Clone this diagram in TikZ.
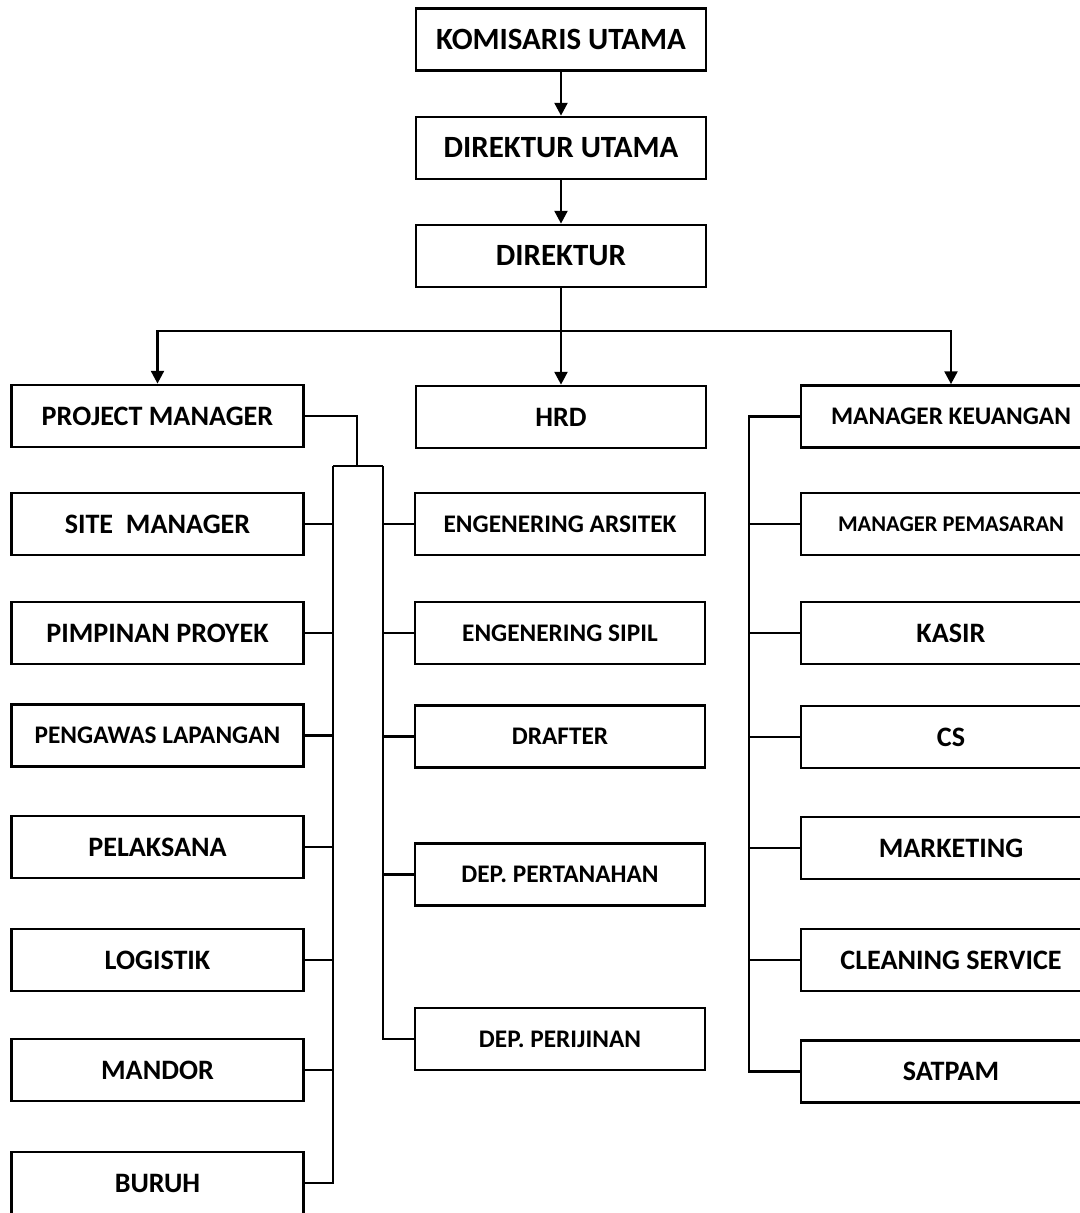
\documentclass[tikz,border=0pt]{standalone}
\usepackage{fontspec}
\setmainfont{Carlito}
\usetikzlibrary{arrows.meta}

\tikzset{
	box/.style={draw, line width=1.9pt, minimum height=1.55cm, inner sep=0pt, font=\bfseries\fontsize{20}{24}\selectfont},
	lbox/.style={box, minimum width=7.3cm},
	mbox/.style={box, minimum width=7.25cm},
	rbox/.style={box, minimum width=7.5cm},
	big/.style={font=\bfseries\fontsize{22}{26}\selectfont},
	small/.style={font=\bfseries\fontsize{18}{22}\selectfont},
	tiny/.style={font=\bfseries\fontsize{16}{20}\selectfont},
	link/.style={line width=1.9pt},
	arr/.style={link, -{Triangle[length=0.32cm, width=0.32cm]}}
}

\begin{document}
\begin{tikzpicture}[x=0.025cm, y=-0.025cm]
		\useasboundingbox (0,0) rectangle (1080,1213);
		
		\node[mbox, big] (kom) at (561,39.5) {KOMISARIS UTAMA};
		\node[mbox, big] (dirut) at (561,148) {DIREKTUR UTAMA};
		\node[mbox, big] (dir) at (561,256) {DIREKTUR};
		
		\node[lbox] (pm) at (157.5,416) {PROJECT MANAGER};
		\node[lbox] (sm) at (157.5,524) {SITE~ MANAGER};
		\node[lbox] (pp) at (157.5,633) {PIMPINAN PROYEK};
		\node[lbox, small] (pl) at (157.5,735.5) {PENGAWAS LAPANGAN};
		\node[lbox] (pel) at (157.5,847) {PELAKSANA};
		\node[lbox] (log) at (157.5,960) {LOGISTIK};
		\node[lbox] (man) at (157.5,1070) {MANDOR};
		\node[lbox] (bur) at (157.5,1183) {BURUH};
		
		\node[mbox] (hrd) at (561,417) {HRD};
		\node[mbox, small] (ea) at (560,524) {ENGENERING ARSITEK};
		\node[mbox, small] (es) at (560,633) {ENGENERING SIPIL};
		\node[mbox, small] (dr) at (560,736.5) {DRAFTER};
		\node[mbox, small] (dpt) at (560,874.5) {DEP. PERTANAHAN};
		\node[mbox, small] (dpr) at (560,1039) {DEP. PERIJINAN};
		
		\node[rbox, small] (mk) at (951,416.5) {MANAGER KEUANGAN};
		\node[rbox, tiny] (mp) at (951,524) {MANAGER PEMASARAN};
		\node[rbox] (ks) at (951,633) {KASIR};
		\node[rbox] (cs) at (951,737) {CS};
		\node[rbox] (mkt) at (951,848) {MARKETING};
		\node[rbox] (cls) at (951,960) {CLEANING SERVICE};
		\node[rbox] (sat) at (951,1071.5) {SATPAM};
		
		\coordinate (bar) at (561,331);
		\coordinate (jm) at (357,466);
		\coordinate (jl) at (333,466);
		\coordinate (jr) at (383,466);
		\coordinate (rt) at (749,420);
		
		\draw[arr] (kom) -- (dirut);
		\draw[arr] (dirut) -- (dir);
		\draw[arr] (dir) -- (hrd);
		\draw[arr] (bar) -| (pm.north);
		\draw[arr] (bar) -| (mk.north);
		
		\draw[link] (pm.east) -| (jm);
		\draw[link] (jl) -- (jr);
		\draw[link] (jl) |- (bur.east);
		\draw[link] (jr) |- (dpr.west);
		\foreach \n in {sm,pp,pl,pel,log,man}
			\draw[link] (\n.east) -- (\n.east -| jl);
		\foreach \n in {ea,es,dr,dpt}
			\draw[link] (\n.west) -- (\n.west -| jr);
		
		\draw[link] (mk.west) -- (mk.west -| rt) |- (sat.west);
		\foreach \n in {mp,ks,cs,mkt,cls}
			\draw[link] (\n.west) -- (\n.west -| rt);
	
	\end{tikzpicture}
\end{document}
